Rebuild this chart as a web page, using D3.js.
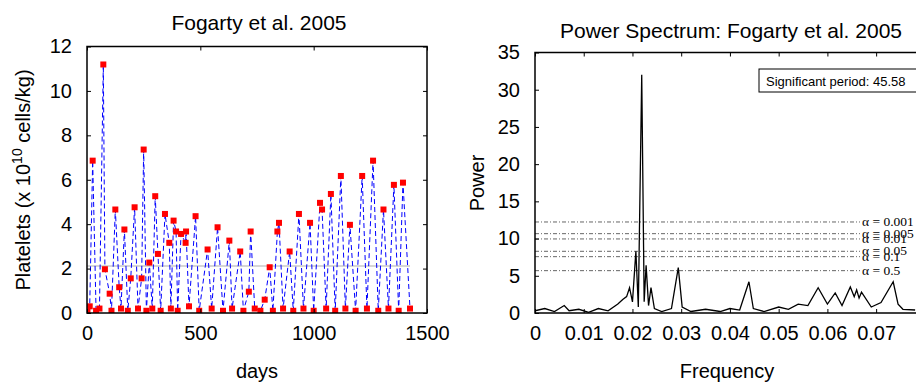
<!DOCTYPE html>
<html>
<head>
<meta charset="utf-8">
<script src="https://cdn.jsdelivr.net/npm/d3@7"></script>
<style>
  body { margin: 0; background: #fff; }
  text { font-family: "Liberation Sans", Arial, sans-serif; }
</style>
</head>
<body>
<div class="chart"></div>
<script>
// platelet time series (day, value in 10^10 cells/kg)
var days = [2, 12, 25, 40, 55, 72, 79, 100, 108, 125, 142, 150, 165, 180, 193, 210, 225, 241, 250, 262,
  275, 288, 301, 313, 325, 344, 363, 370, 382, 393, 400, 415, 435, 437, 450, 479, 495, 532, 550, 576,
  600, 628, 640, 676, 690, 714, 722, 740, 765, 784, 806, 820, 840, 847, 865, 894, 910, 935, 955, 984,
  1000, 1028, 1037, 1055, 1076, 1095, 1120, 1140, 1160, 1185, 1214, 1235, 1262, 1285, 1308, 1330, 1354, 1375, 1394, 1425];
var platelets = [0.1, 0.3, 6.86, 0.1, 0.2, 11.19, 1.97, 0.87, 0.1, 4.66, 1.16, 0.2, 3.76, 0.1, 1.56, 4.76, 0.2, 1.56, 7.36, 0.1,
  2.27, 0.2, 5.26, 2.66, 0.1, 4.46, 3.16, 0.2, 4.16, 3.67, 0.1, 3.56, 3.16, 3.67, 0.3, 4.36, 0.1, 2.86, 0.2, 3.86,
  0.1, 3.26, 0.2, 2.77, 0.1, 0.96, 3.67, 0.2, 0.1, 0.6, 2.06, 0.1, 3.67, 4.06, 0.2, 2.77, 0.1, 4.46, 0.2, 4.06,
  0.1, 4.96, 4.66, 0.2, 5.36, 0.1, 6.17, 0.2, 3.97, 0.1, 6.17, 0.2, 6.86, 0.1, 4.66, 0.2, 5.77, 0.1, 5.87, 0.2];
var refLevel = 2.12;

// power spectrum
var freq = [0, 0.002, 0.004, 0.006, 0.007, 0.009, 0.011, 0.013, 0.015, 0.017, 0.018, 0.0188, 0.0194, 0.0200, 0.0207,
  0.0212, 0.0219, 0.0224, 0.0228, 0.0233, 0.0238, 0.0245, 0.026, 0.028, 0.0294, 0.0302, 0.032, 0.035, 0.038, 0.040,
  0.042, 0.0439, 0.0448, 0.047, 0.050, 0.052, 0.054, 0.056, 0.0581, 0.060, 0.0616, 0.063, 0.0647, 0.0655, 0.066,
  0.0665, 0.067, 0.069, 0.071, 0.0735, 0.0745, 0.0755, 0.078];
var power = [0.3, 0.6, 0.2, 1.0, 0.3, 0.5, 0.1, 0.6, 0.3, 1.2, 1.8, 2.2, 3.4, 1.5, 8.3,
  0.8, 32.0, 1.5, 6.4, 1.0, 3.4, 0.6, 0.2, 0.6, 6.1, 0.8, 0.2, 0.5, 0.2, 0.6,
  0.4, 4.2, 0.6, 0.2, 0.8, 0.5, 1.2, 1.0, 3.4, 1.2, 2.7, 1.0, 3.5, 2.2, 3.1,
  2.0, 2.8, 0.8, 1.4, 4.2, 1.2, 0.5, 0.4];

// significance levels
var alphaLabels = ["0.001", "0.005", "0.01", "0.05", "0.1", "0.5"];
var alphaLevels = [12.23, 10.66, 9.95, 8.29, 7.57, 5.69];

var leftTitle = "Fogarty et al. 2005";
var rightTitle = "Power Spectrum: Fogarty et al. 2005";
var periodText = "Significant period: 45.58";

var svg = d3.select(".chart").append("svg")
  .attr("width", 916)
  .attr("height", 385);

// box + inward ticks on all four sides
function boxAxes(g, x, y, xTicks, yTicks, xFmt) {
  var x0 = x.range()[0], x1 = x.range()[1], y0 = y.range()[0], y1 = y.range()[1];
  g.append("g")
    .attr("transform", `translate(0, ${y0})`)
    .call(d3.axisBottom(x).tickValues(xTicks).tickFormat(xFmt).tickSizeInner(-4).tickSizeOuter(0).tickPadding(13))
    .call(a => a.select(".domain").remove());
  g.append("g")
    .attr("transform", `translate(0, ${y1})`)
    .call(d3.axisTop(x).tickValues(xTicks).tickFormat("").tickSizeInner(-4).tickSizeOuter(0))
    .call(a => a.select(".domain").remove());
  g.append("g")
    .attr("transform", `translate(${x0}, 0)`)
    .call(d3.axisLeft(y).tickValues(yTicks).tickFormat(d3.format("d")).tickSizeInner(-4).tickSizeOuter(0).tickPadding(15))
    .call(a => a.select(".domain").remove());
  g.append("g")
    .attr("transform", `translate(${x1}, 0)`)
    .call(d3.axisRight(y).tickValues(yTicks).tickFormat("").tickSizeInner(-4).tickSizeOuter(0))
    .call(a => a.select(".domain").remove());
  g.selectAll(".tick text").attr("font-size", "20px").attr("fill", "#000")
    .style("font-family", "'Liberation Sans', Arial, sans-serif");
  g.selectAll(".tick line").attr("stroke", "#000");
  g.append("rect")
    .attr("x", x0).attr("y", y1)
    .attr("width", x1 - x0).attr("height", y0 - y1)
    .attr("fill", "none").attr("stroke", "#000").attr("stroke-width", 1.5);
}

// ---------- left: platelets ----------
var xL = d3.scaleLinear().domain([0, 1500]).range([87, 427]);
var yL = d3.scaleLinear().domain([0, 12]).range([313, 46.5]);

var left = svg.append("g");
left.append("clipPath").attr("id", "clipL")
  .append("rect").attr("x", 87).attr("y", 46.5).attr("width", 340).attr("height", 313 - 46.5);

var plotL = left.append("g").attr("clip-path", "url(#clipL)");
plotL.append("line")
  .attr("x1", xL(0)).attr("x2", xL(d3.max(days)))
  .attr("y1", yL(refLevel)).attr("y2", yL(refLevel))
  .attr("stroke", "#c8c8c8").attr("stroke-width", 1.5);

var series = days.map((d, i) => ({ day: d, value: platelets[i] }));
var lineL = d3.line().x(d => xL(d.day)).y(d => yL(d.value));
plotL.append("path")
  .datum(series)
  .attr("d", lineL)
  .attr("fill", "none")
  .attr("stroke", "#0000ff")
  .attr("stroke-width", 1)
  .attr("stroke-dasharray", "5,3");
plotL.selectAll("rect.pt")
  .data(series)
  .enter()
  .append("rect")
  .attr("class", "pt")
  .attr("x", d => xL(d.day) - 3)
  .attr("y", d => yL(d.value) - 3)
  .attr("width", 6).attr("height", 6)
  .attr("fill", "#ff0000");

boxAxes(left, xL, yL, [0, 500, 1000, 1500], [0, 2, 4, 6, 8, 10, 12], d3.format("d"));

left.append("text")
  .attr("x", 259).attr("y", 30)
  .attr("text-anchor", "middle").attr("font-size", "21px")
  .text(leftTitle);
left.append("text")
  .attr("x", 257).attr("y", 378)
  .attr("text-anchor", "middle").attr("font-size", "20px")
  .text("days");
var yLab = left.append("text")
  .attr("transform", "translate(30, 180) rotate(-90)")
  .attr("text-anchor", "middle").attr("font-size", "20px");
yLab.append("tspan").text("Platelets (x 10");
yLab.append("tspan").attr("dy", -8).attr("font-size", "14px").text("10");
yLab.append("tspan").attr("dy", 8).text(" cells/kg)");

// ---------- right: power spectrum ----------
var xR = d3.scaleLinear().domain([0, 0.079]).range([535, 920]);
var yR = d3.scaleLinear().domain([0, 35]).range([313, 52.5]);

var right = svg.append("g");
right.append("clipPath").attr("id", "clipR")
  .append("rect").attr("x", 535).attr("y", 52.5).attr("width", 385).attr("height", 313 - 52.5);
var plotR = right.append("g").attr("clip-path", "url(#clipR)");

plotR.selectAll("line.alpha")
  .data(alphaLevels)
  .enter()
  .append("line")
  .attr("class", "alpha")
  .attr("x1", xR(0)).attr("x2", 860)
  .attr("y1", d => yR(d)).attr("y2", d => yR(d))
  .attr("stroke", "#555")
  .attr("stroke-width", 0.9)
  .attr("stroke-dasharray", "4,2,1,2");

var spec = freq.map((f, i) => ({ f: f, p: power[i] }));
plotR.append("path")
  .datum(spec)
  .attr("d", d3.line().x(d => xR(d.f)).y(d => yR(d.p)))
  .attr("fill", "none")
  .attr("stroke", "#000")
  .attr("stroke-width", 1.3);

right.selectAll("text.alpha")
  .data(alphaLevels)
  .enter()
  .append("text")
  .attr("class", "alpha")
  .attr("x", 862)
  .attr("y", d => yR(d) + 4)
  .attr("font-size", "13.5px")
  .style("font-family", "'Liberation Serif', 'Times New Roman', serif")
  .text((d, i) => "\u03B1 = " + alphaLabels[i]);

boxAxes(right, xR, yR, [0, 0.01, 0.02, 0.03, 0.04, 0.05, 0.06, 0.07], [0, 5, 10, 15, 20, 25, 30, 35],
  d => d === 0 ? "0" : d3.format(".2f")(d).replace(/0$/, ""));

// significant period box
right.append("rect")
  .attr("x", 759).attr("y", 69)
  .attr("width", 162).attr("height", 23)
  .attr("fill", "#fff").attr("stroke", "#000").attr("stroke-width", 1);
right.append("text")
  .attr("x", 766).attr("y", 85.5)
  .attr("font-size", "13px")
  .text(periodText);

right.append("text")
  .attr("x", 731).attr("y", 38)
  .attr("text-anchor", "middle").attr("font-size", "21px")
  .text(rightTitle);
right.append("text")
  .attr("x", 727).attr("y", 378)
  .attr("text-anchor", "middle").attr("font-size", "20px")
  .text("Frequency");
right.append("text")
  .attr("transform", "translate(484, 183) rotate(-90)")
  .attr("text-anchor", "middle").attr("font-size", "20px")
  .text("Power");
</script>
</body>
</html>
